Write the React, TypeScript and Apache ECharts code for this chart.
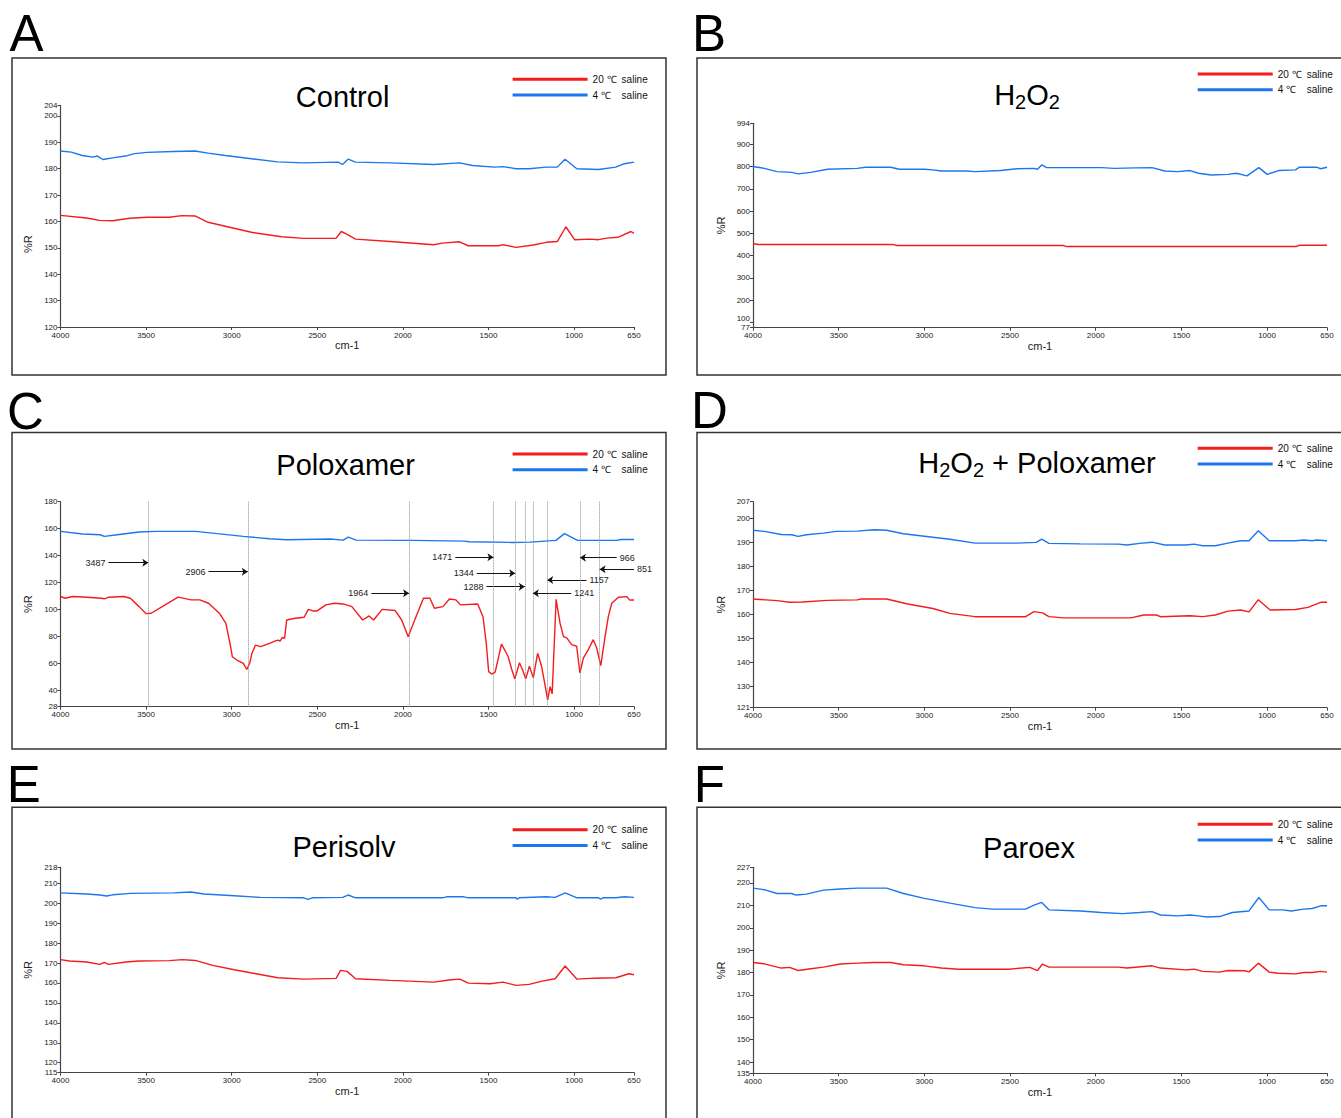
import React, { useEffect, useRef } from 'react';
import * as echarts from 'echarts';

// ---------- names ----------
const WARM = '20 ℃ saline';
const COLD = '4 ℃ saline';

// ---------- tick labels ----------
const xTicks = [4000, 3500, 3000, 2500, 2000, 1500, 1000, 650];
const yTicksA = [120, 130, 140, 150, 160, 170, 180, 190, 200, 204];
const yTicksB = [77, 100, 200, 300, 400, 500, 600, 700, 800, 900, 994];
const yTicksC = [28, 40, 60, 80, 100, 120, 140, 160, 180];
const yTicksD = [121, 130, 140, 150, 160, 170, 180, 190, 200, 207];
const yTicksE = [115, 120, 130, 140, 150, 160, 170, 180, 190, 200, 210, 218];
const yTicksF = [135, 140, 150, 160, 170, 180, 190, 200, 210, 220, 227];

// ---------- spectra [wavenumber cm-1, %R] ----------
const controlCold = [[4000,186.7],[3937,186.3],[3873,185],[3810,184.4],[3785,184.8],[3752,183.5],[3696,184.1],[3620,184.8],[3569,185.7],[3493,186.2],[3341,186.5],[3214,186.7],[3138,185.9],[3037,185],[2885,183.8],[2733,182.6],[2581,182.2],[2378,182.5],[2353,181.6],[2320,183.6],[2277,182.5],[2074,182.2],[1821,181.6],[1669,182.2],[1593,181.2],[1466,180.6],[1415,180.8],[1339,180],[1263,180],[1162,180.6],[1098,180.6],[1053,183.6],[984,180],[858,179.7],[757,180.6],[706,181.9],[650,182.5]];
const controlWarm = [[4000,162.3],[3848,161.3],[3772,160.4],[3696,160.3],[3595,161.2],[3493,161.6],[3366,161.6],[3290,162.2],[3214,162.1],[3138,159.7],[3012,157.8],[2885,155.9],[2708,154.2],[2581,153.6],[2391,153.6],[2360,156.2],[2328,155.2],[2277,153.3],[2074,152.4],[1821,151.2],[1770,151.8],[1669,152.3],[1618,150.8],[1441,150.8],[1415,151.2],[1339,150.2],[1238,151.1],[1162,152.1],[1098,152.4],[1048,158],[997,153.1],[908,153.3],[858,153.1],[808,153.7],[744,154],[668,156.2],[650,155.5]];

const h2o2Cold = [[4000,800],[3934,792],[3860,777],[3774,774],[3737,767],[3663,774],[3565,788],[3392,792],[3343,797],[3196,797],[3147,788],[3000,788],[2950,785],[2900,780],[2753,780],[2704,777],[2556,782],[2458,790],[2360,792],[2340,788],[2315,807],[2286,795],[1966,795],[1892,792],[1769,794],[1671,795],[1597,780],[1523,777],[1449,782],[1400,770],[1326,762],[1228,765],[1179,770],[1117,758],[1048,795],[999,765],[933,782],[834,785],[810,797],[711,797],[687,790],[650,797]];
const h2o2Warm = [[4000,455],[3970,450],[3180,450],[3160,446],[2190,446],[2170,441],[830,441],[810,447],[650,447]];

const poloxCold = [[4000,158],[3871,156],[3769,155.5],[3744,154.3],[3668,155.5],[3541,157.5],[3440,158],[3211,158],[3084,156.3],[2932,154.3],[2780,152.5],[2679,151.8],[2425,152.3],[2349,151.5],[2319,153.8],[2273,151.5],[1943,151.3],[1639,150.8],[1614,150.3],[1360,149.8],[1258,150],[1106,151.3],[1056,156.3],[980,151.3],[751,151.3],[726,152],[650,152]];
const poloxWarm = [[4000,109.7],[3972,108.4],[3930,109.7],[3845,109.2],[3760,108.4],[3744,108],[3718,109.2],[3630,109.7],[3592,108.4],[3541,102.2],[3500,97],[3470,97.3],[3389,103.5],[3313,109.2],[3237,107.2],[3186,107.2],[3135,104.7],[3072,97.3],[3034,89.8],[3010,75],[2996,65],[2970,62.6],[2932,60.1],[2912,55.6],[2894,60.6],[2882,67.5],[2861,73.7],[2831,72.5],[2780,75],[2740,77],[2729,77.4],[2717,76.7],[2704,79.4],[2691,78.7],[2679,92.3],[2628,93.6],[2577,94.3],[2552,100.2],[2525,99],[2501,99],[2450,103.5],[2400,104.7],[2349,104.2],[2298,102.2],[2235,92.3],[2197,95.3],[2171,92.3],[2121,100.2],[2045,99.3],[2007,92.3],[1969,79.9],[1931,92.3],[1880,108.4],[1842,108.4],[1816,101],[1766,102.2],[1728,107.9],[1690,107.2],[1664,103.5],[1563,104.2],[1532,94.7],[1513,75],[1499,54],[1482,52.2],[1461,53.7],[1424,74.5],[1405,70],[1385,65],[1365,56],[1346,48.6],[1319,60.6],[1300,55],[1282,48.6],[1261,58.1],[1238,49.5],[1213,67.6],[1190,58],[1154,33],[1140,42.9],[1128,37.5],[1105,107.6],[1082,89.9],[1062,80],[1043,79],[1014,74],[985,72.8],[966,53],[946,64],[917,70.3],[888,77.7],[868,71.5],[844,58.4],[819,80],[800,94.8],[780,104.7],[741,109.1],[692,109.6],[675,107],[663,107.1],[650,107.1]];

const peroxPoloxCold = [[4000,195.1],[3934,194.6],[3835,193.3],[3774,193.2],[3737,192.5],[3688,193.2],[3589,193.9],[3515,194.6],[3392,194.7],[3294,195.3],[3220,195.1],[3122,193.6],[3000,192.6],[2851,191.3],[2704,189.7],[2458,189.7],[2347,190],[2315,191.4],[2273,189.6],[2089,189.4],[1868,189.3],[1818,188.9],[1744,189.6],[1671,190.1],[1597,188.9],[1474,188.9],[1425,189.3],[1376,188.6],[1302,188.6],[1228,189.7],[1154,190.7],[1105,190.7],[1051,194.9],[987,190.7],[834,190.7],[785,191],[736,190.7],[711,191],[650,190.7]];
const peroxPoloxWarm = [[4000,166.4],[3860,165.7],[3786,165],[3712,165.1],[3565,165.8],[3392,166],[3368,166.4],[3220,166.4],[3097,164.3],[2950,162.4],[2851,160.4],[2704,159],[2409,159],[2360,161.1],[2310,160.6],[2273,159],[2187,158.5],[1794,158.5],[1720,159.7],[1646,159.7],[1622,159],[1449,159.4],[1376,159],[1302,159.7],[1228,161.3],[1154,161.8],[1105,161],[1051,166.1],[982,161.8],[834,162],[761,162.9],[687,165],[650,165]];

const perisolvCold = [[4000,205.2],[3846,204.6],[3770,204.1],[3732,203.6],[3694,204.2],[3592,204.9],[3339,205.2],[3238,205.6],[3162,204.6],[2985,203.7],[2833,202.9],[2580,202.7],[2554,201.9],[2528,202.7],[2352,202.9],[2320,204.1],[2276,202.7],[1770,202.7],[1745,203.2],[1643,203.2],[1617,202.7],[1339,202.7],[1334,202],[1320,202.7],[1162,203.2],[1111,202.9],[1052,205.2],[983,202.7],[857,202.7],[845,202],[830,202.7],[756,202.7],[706,203.2],[650,202.9]];
const perisolvWarm = [[4000,171.7],[3947,171],[3846,170.5],[3770,169.3],[3744,170.3],[3719,169.3],[3618,170.5],[3542,171],[3364,171.2],[3289,171.7],[3213,171.3],[3111,168.8],[2985,166.6],[2858,164.6],[2731,162.6],[2580,161.9],[2390,162.3],[2364,166.3],[2326,165.8],[2276,162.1],[2073,161.3],[1820,160.4],[1719,161.6],[1668,161.9],[1617,159.9],[1491,159.6],[1415,160.4],[1339,158.8],[1263,159.3],[1187,160.9],[1111,162.1],[1052,168.5],[983,161.9],[883,162.4],[756,162.6],[680,164.6],[650,164.1]];

const paroexCold = [[4000,217.7],[3934,217],[3860,215.3],[3774,215.3],[3749,214.6],[3688,215],[3589,216.8],[3491,217.3],[3392,217.7],[3220,217.7],[3122,215.3],[3000,213.1],[2851,211],[2704,209],[2605,208.3],[2409,208.3],[2360,210.1],[2315,211.3],[2273,208],[2089,207.5],[1966,206.8],[1843,206.3],[1744,206.8],[1671,207.2],[1622,205.7],[1523,205.3],[1449,205.7],[1400,205.3],[1351,204.8],[1277,205],[1203,206.8],[1105,207.5],[1048,213.5],[987,208],[908,208],[859,207.5],[785,208.3],[736,208.6],[687,209.8],[650,209.8]];
const paroexWarm = [[4000,184.5],[3934,183.9],[3835,182],[3786,182.3],[3737,180.9],[3663,181.7],[3589,182.4],[3491,183.8],[3392,184.2],[3294,184.5],[3196,184.5],[3122,183.5],[3000,183],[2901,182],[2802,181.5],[2507,181.5],[2384,182.3],[2340,180.9],[2310,183.8],[2273,182.4],[1868,182.4],[1818,182],[1671,183],[1622,182],[1474,181.2],[1425,181.5],[1376,180.5],[1277,180.2],[1228,180.9],[1129,180.8],[1105,180.3],[1051,184.2],[987,180.2],[933,179.7],[834,179.4],[785,180],[736,180],[687,180.5],[650,180.2]];

// ---------- Poloxamer band annotations ----------
const poloxPeaks = [3487, 2906, 1964, 1471, 1344, 1288, 1241, 1157, 966, 851];
const poloxArrowTails = [3720, 3135, 2184, 1694, 1568, 1512, 1017, 928, 751, 650];
const poloxArrowLevels = [134.8, 128.1, 112.1, 138.8, 126.9, 117, 112.1, 122, 138.5, 129.9];

// ---------- style ----------
const FONT = "'Liberation Sans', Arial, Helvetica, sans-serif";
const RED = '#f41c1c';
const BLUE = '#1c76ee';
const AXIS = '#444';

type Panel = {
  letter: string; letterPos: [number, number];
  title: string; titlePos: [number, number];
  ticks: number[]; raise?: number[];
  cold: number[][]; warm: number[][];
  grid: { left: number; top: number; width: number; height: number };
  box: { x: number; y: number; width: number; height: number };
  legend: [number, number];
  yNameShift?: number;
};

const LX = 60.5, LW = 573.5, RX = 753, RW = 574;

const panels: Panel[] = [
  { letter: 'A', letterPos: [9.5, 33.4], title: '{n|Control}', titlePos: [342.6, 96.7], ticks: yTicksA, cold: controlCold, warm: controlWarm,
    grid: { left: LX, top: 105.4, width: LW, height: 221.6 }, box: { x: 12, y: 58, width: 654, height: 317 }, legend: [512.6, 79.3], yNameShift: 28 },
  { letter: 'B', letterPos: [692, 33.4], title: '{n|H}{s|2}{n|O}{s|2}', titlePos: [1027, 95], ticks: yTicksB, raise: [100], cold: h2o2Cold, warm: h2o2Warm,
    grid: { left: RX, top: 123.3, width: RW, height: 204.4 }, box: { x: 697, y: 58, width: 660, height: 317 }, legend: [1197.7, 74] },
  { letter: 'C', letterPos: [7, 411], title: '{n|Poloxamer}', titlePos: [345.6, 464.7], ticks: yTicksC, cold: poloxCold, warm: poloxWarm,
    grid: { left: LX, top: 501.7, width: LW, height: 205 }, box: { x: 12, y: 432.5, width: 654, height: 316.5 }, legend: [512.6, 454] },
  { letter: 'D', letterPos: [691, 410], title: '{n|H}{s|2}{n|O}{s|2}{n| + Poloxamer}', titlePos: [1037, 463], ticks: yTicksD, cold: peroxPoloxCold, warm: peroxPoloxWarm,
    grid: { left: RX, top: 501.7, width: RW, height: 206 }, box: { x: 697, y: 432.5, width: 660, height: 316.5 }, legend: [1197.7, 448.3] },
  { letter: 'E', letterPos: [6.8, 784.8], title: '{n|Perisolv}', titlePos: [344, 847.3], ticks: yTicksE, cold: perisolvCold, warm: perisolvWarm,
    grid: { left: LX, top: 867.3, width: LW, height: 205.4 }, box: { x: 12, y: 807.3, width: 654, height: 330 }, legend: [512.6, 829.7] },
  { letter: 'F', letterPos: [693.7, 784.2], title: '{n|Paroex}', titlePos: [1029, 847.8], ticks: yTicksF, cold: paroexCold, warm: paroexWarm,
    grid: { left: RX, top: 867.3, width: RW, height: 206 }, box: { x: 697, y: 807.3, width: 660, height: 330 }, legend: [1197.7, 824.3] },
];

function buildOption() {
  const grid: any[] = [];
  const xAxis: any[] = [];
  const yAxis: any[] = [];
  const series: any[] = [];
  const legend: any[] = [];
  const graphic: any[] = [];

  const labelStyle = { fontSize: 8, fontFamily: FONT, color: '#222' };

  panels.forEach((p, i) => {
    grid.push({ ...p.grid, containLabel: false, outerBoundsMode: 'none' });
    xAxis.push({
      type: 'value', gridIndex: i, min: 650, max: 4000, inverse: true,
      name: 'cm-1', nameLocation: 'middle', nameGap: 12,
      nameTextStyle: { fontSize: 11, fontFamily: FONT, color: '#222' },
      axisLine: { show: true, onZero: false, lineStyle: { color: AXIS, width: 1.2 } },
      axisTick: { show: true, inside: false, length: 3, customValues: xTicks, lineStyle: { color: AXIS, width: 1 } },
      axisLabel: { ...labelStyle, customValues: xTicks, margin: 4, showMinLabel: true, showMaxLabel: true, formatter: (v: number) => String(v) },
      splitLine: { show: false },
    });
    const raise = p.raise || [];
    yAxis.push({
      type: 'value', gridIndex: i, min: p.ticks[0], max: p.ticks[p.ticks.length - 1],
      name: '%R', nameLocation: 'middle', nameGap: 27,
      nameTextStyle: { fontSize: 11, fontFamily: FONT, color: '#222', padding: [0, (p.yNameShift || 0) * 2, 0, 0] },
      axisLine: { show: true, onZero: false, lineStyle: { color: AXIS, width: 1.2 } },
      axisTick: { show: true, inside: false, length: 3, customValues: p.ticks, lineStyle: { color: AXIS, width: 1 } },
      axisLabel: {
        ...labelStyle, customValues: p.ticks, margin: 3, showMinLabel: true, showMaxLabel: true,
        formatter: (v: number) => (raise.indexOf(v) >= 0 ? `{up|${v}}` : String(v)),
        rich: { up: { ...labelStyle, padding: [0, 0, 8, 0] } },
      },
      splitLine: { show: false },
    });

    const warmSeries: any = {
      type: 'line', name: WARM, xAxisIndex: i, yAxisIndex: i, data: p.warm,
      showSymbol: false, symbol: 'none', smooth: false,
      lineStyle: { color: RED, width: 1.4 }, itemStyle: { color: RED },
    };
    const coldSeries: any = {
      type: 'line', name: COLD, xAxisIndex: i, yAxisIndex: i, data: p.cold,
      showSymbol: false, symbol: 'none', smooth: false,
      lineStyle: { color: BLUE, width: 1.4 }, itemStyle: { color: BLUE },
    };
    if (p.letter === 'C') {
      coldSeries.markLine = {
        silent: true, symbol: 'none', animation: false,
        label: { show: false },
        lineStyle: { type: 'dotted', color: '#8a8a8a', width: 1 },
        data: poloxPeaks.map((v) => ({ xAxis: v })),
      };
      warmSeries.markLine = {
        silent: true, symbol: ['none', 'arrow'], symbolSize: 6, animation: false,
        lineStyle: { type: 'solid', color: '#111', width: 1 },
        label: { show: true, position: 'start', distance: 3, fontSize: 9, fontFamily: FONT, color: '#222' },
        data: poloxPeaks.map((v, k) => [
          { coord: [poloxArrowTails[k], poloxArrowLevels[k]], label: { formatter: String(v) } },
          { coord: [v, poloxArrowLevels[k]] },
        ]),
      };
    }
    series.push(warmSeries, coldSeries);

    legend.push({
      left: p.legend[0], top: p.legend[1] - 5, orient: 'vertical', padding: 0,
      icon: 'rect', itemWidth: 75, itemHeight: 3, itemGap: 5.7, selectedMode: false,
      data: [WARM, COLD],
      formatter: (name: string) => {
        const k = name.lastIndexOf(' ');
        return `{a|${name.slice(0, k)}}{b|${name.slice(k + 1)}}`;
      },
      textStyle: {
        fontSize: 10, fontFamily: FONT, color: '#111',
        rich: {
          a: { width: 29, fontSize: 10, fontFamily: FONT, color: '#111', lineHeight: 10 },
          b: { fontSize: 10, fontFamily: FONT, color: '#111', lineHeight: 10 },
        },
      },
    });

    graphic.push({
      type: 'rect', silent: true, z: 0,
      shape: { ...p.box },
      style: { fill: 'none', stroke: '#333', lineWidth: 1.5 },
    });
    graphic.push({
      type: 'text', silent: true, x: p.letterPos[0], y: p.letterPos[1],
      style: { text: p.letter, fontSize: 51, fontFamily: FONT, fill: '#000', align: 'left', verticalAlign: 'middle' },
    });
    graphic.push({
      type: 'text', silent: true, x: p.titlePos[0], y: p.titlePos[1],
      style: {
        text: p.title, align: 'center', verticalAlign: 'middle', fill: '#000',
        rich: {
          n: { fontSize: 29, fontFamily: FONT, color: '#000' },
          s: { fontSize: 20, fontFamily: FONT, color: '#000', padding: [14, 0, 0, 0] },
        },
      },
    });
  });

  return {
    animation: false,
    backgroundColor: '#fff',
    grid, xAxis, yAxis, series, legend, graphic,
  };
}

export default function App() {
  const ref = useRef<HTMLDivElement>(null);
  useEffect(() => {
    document.body.style.margin = '0';
    const chart = echarts.init(ref.current as HTMLDivElement, undefined, { renderer: 'svg', width: 1341, height: 1118 });
    chart.setOption(buildOption() as any);
    return () => chart.dispose();
  }, []);
  return (
    <div
      ref={ref}
      style={{ position: 'absolute', left: 0, top: 0, width: 1341, height: 1118, background: '#fff', overflow: 'hidden' }}
    />
  );
}
